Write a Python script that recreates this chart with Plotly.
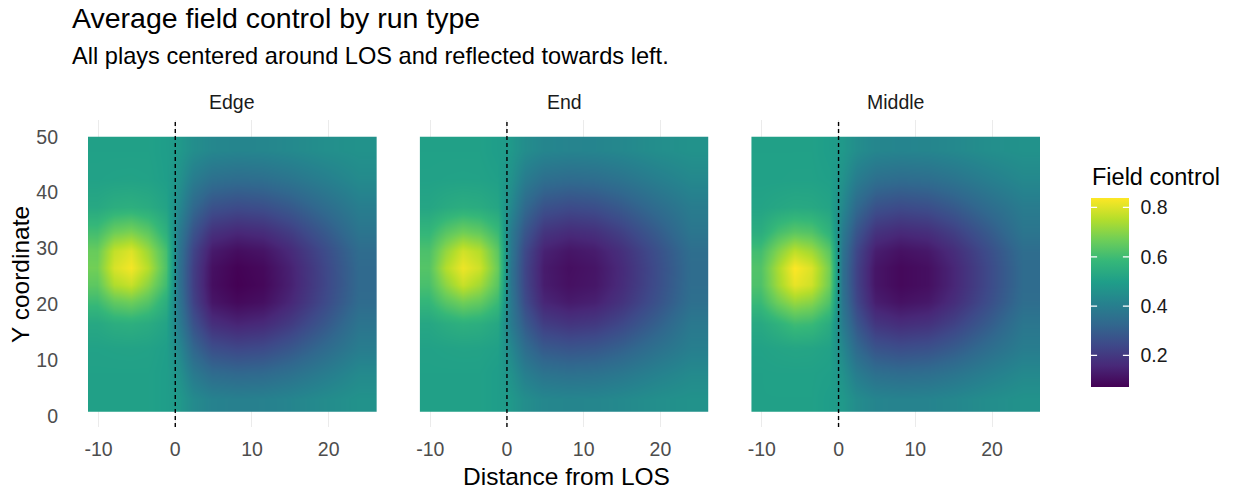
import plotly.graph_objects as go

# ---------------- data ----------------
panels = ["Edge", "End", "Middle"]
x_centers = [-10.25, -8, -5.75, -3.5, -1.25, 0.5, 2.25, 4.75, 8, 11.5, 15, 19.5, 24]
y_centers = [3, 7.5, 12, 16.5, 20.5, 23.5, 26.5, 29.5, 33, 37.5, 42.5, 47.5]
x_ticks = [-10, 0, 10, 20]
x_ticklabels = ["-10", "0", "10", "20"]
y_ticks = [0, 10, 20, 30, 40, 50]
cbar_ticks = [0.2, 0.4, 0.6, 0.8]
los = 0

edge_z = [
    [0.505, 0.505, 0.505, 0.505, 0.495, 0.48, 0.436, 0.411, 0.404, 0.407, 0.419, 0.441, 0.46],
    [0.505, 0.505, 0.505, 0.505, 0.495, 0.46, 0.387, 0.341, 0.33, 0.335, 0.356, 0.394, 0.435],
    [0.509, 0.511, 0.512, 0.51, 0.498, 0.43, 0.327, 0.258, 0.239, 0.248, 0.281, 0.338, 0.395],
    [0.53, 0.548, 0.553, 0.541, 0.513, 0.39, 0.268, 0.175, 0.15, 0.163, 0.206, 0.283, 0.367],
    [0.594, 0.649, 0.666, 0.629, 0.55, 0.37, 0.226, 0.117, 0.089, 0.103, 0.154, 0.244, 0.339],
    [0.643, 0.745, 0.773, 0.70, 0.598, 0.36, 0.215, 0.101, 0.071, 0.086, 0.139, 0.234, 0.332],
    [0.671, 0.792, 0.827, 0.752, 0.618, 0.36, 0.217, 0.105, 0.075, 0.09, 0.142, 0.236, 0.334],
    [0.657, 0.767, 0.799, 0.719, 0.608, 0.37, 0.232, 0.127, 0.099, 0.113, 0.162, 0.25, 0.342],
    [0.602, 0.663, 0.682, 0.641, 0.556, 0.39, 0.273, 0.182, 0.158, 0.17, 0.212, 0.288, 0.369],
    [0.53, 0.548, 0.553, 0.541, 0.513, 0.43, 0.333, 0.266, 0.249, 0.258, 0.288, 0.344, 0.398],
    [0.508, 0.51, 0.511, 0.509, 0.497, 0.46, 0.396, 0.356, 0.345, 0.351, 0.37, 0.403, 0.438],
    [0.505, 0.505, 0.505, 0.505, 0.495, 0.48, 0.447, 0.426, 0.42, 0.423, 0.433, 0.45, 0.46],
]
end_z = [
    [0.505, 0.505, 0.505, 0.505, 0.495, 0.48, 0.447, 0.426, 0.421, 0.423, 0.433, 0.45, 0.46],
    [0.505, 0.505, 0.505, 0.505, 0.495, 0.46, 0.403, 0.366, 0.356, 0.361, 0.378, 0.409, 0.436],
    [0.508, 0.511, 0.513, 0.512, 0.504, 0.43, 0.349, 0.29, 0.275, 0.283, 0.31, 0.358, 0.401],
    [0.525, 0.544, 0.557, 0.55, 0.526, 0.39, 0.293, 0.212, 0.19, 0.201, 0.239, 0.306, 0.38],
    [0.577, 0.635, 0.671, 0.651, 0.589, 0.38, 0.25, 0.153, 0.127, 0.14, 0.185, 0.265, 0.351],
    [0.612, 0.704, 0.774, 0.729, 0.634, 0.37, 0.236, 0.132, 0.105, 0.118, 0.167, 0.253, 0.344],
    [0.629, 0.75, 0.819, 0.78, 0.657, 0.37, 0.234, 0.129, 0.101, 0.115, 0.164, 0.251, 0.342],
    [0.616, 0.712, 0.784, 0.75, 0.639, 0.38, 0.244, 0.144, 0.117, 0.131, 0.177, 0.26, 0.348],
    [0.576, 0.633, 0.668, 0.648, 0.588, 0.39, 0.279, 0.191, 0.168, 0.179, 0.22, 0.293, 0.372],
    [0.521, 0.537, 0.547, 0.541, 0.521, 0.43, 0.333, 0.267, 0.249, 0.258, 0.289, 0.344, 0.393],
    [0.507, 0.509, 0.51, 0.509, 0.502, 0.46, 0.394, 0.352, 0.341, 0.347, 0.366, 0.401, 0.431],
    [0.505, 0.505, 0.505, 0.505, 0.495, 0.48, 0.444, 0.422, 0.416, 0.419, 0.429, 0.448, 0.46],
]
middle_z = [
    [0.505, 0.505, 0.505, 0.505, 0.495, 0.48, 0.442, 0.419, 0.413, 0.416, 0.427, 0.446, 0.46],
    [0.505, 0.506, 0.506, 0.506, 0.501, 0.46, 0.395, 0.354, 0.343, 0.349, 0.368, 0.402, 0.432],
    [0.51, 0.516, 0.52, 0.518, 0.508, 0.43, 0.337, 0.273, 0.256, 0.265, 0.294, 0.348, 0.395],
    [0.533, 0.563, 0.597, 0.589, 0.542, 0.39, 0.281, 0.193, 0.17, 0.182, 0.223, 0.295, 0.373],
    [0.589, 0.665, 0.718, 0.698, 0.62, 0.37, 0.238, 0.135, 0.108, 0.122, 0.17, 0.255, 0.345],
    [0.619, 0.725, 0.812, 0.783, 0.664, 0.36, 0.226, 0.116, 0.088, 0.102, 0.153, 0.243, 0.338],
    [0.624, 0.736, 0.837, 0.797, 0.672, 0.36, 0.226, 0.116, 0.088, 0.102, 0.153, 0.243, 0.338],
    [0.601, 0.688, 0.761, 0.726, 0.637, 0.37, 0.238, 0.135, 0.108, 0.122, 0.17, 0.255, 0.345],
    [0.547, 0.605, 0.637, 0.625, 0.563, 0.39, 0.276, 0.186, 0.163, 0.175, 0.216, 0.29, 0.371],
    [0.515, 0.525, 0.533, 0.53, 0.515, 0.43, 0.333, 0.266, 0.248, 0.258, 0.289, 0.344, 0.392],
    [0.506, 0.506, 0.507, 0.507, 0.501, 0.46, 0.395, 0.354, 0.343, 0.349, 0.368, 0.402, 0.432],
    [0.505, 0.505, 0.505, 0.505, 0.495, 0.48, 0.445, 0.423, 0.418, 0.421, 0.431, 0.449, 0.46],
]
panel_z = [edge_z, end_z, middle_z]

# ---------------- layout geometry ----------------
W, H = 1233, 490
ML, MR, MT, MB = 88, 193, 120, 63
PW = W - ML - MR
PH = H - MT - MB
FONT = "Liberation Sans, Arial, sans-serif"

def px2x(px):
    return (px - ML) / PW

def py2y(py):
    return (H - MB - py) / PH

domains = [[0.0, 0.3032], [0.3484, 0.6516], [0.6967, 1.0]]
x_range = [-11.375, 26.25]
y_range = [-2, 53]

fig = go.Figure()
axis_names = ["x", "x2", "x3"]
for i, (name, z) in enumerate(zip(panels, panel_z)):
    fig.add_trace(go.Heatmap(
        x=x_centers, y=y_centers, z=z,
        xaxis=axis_names[i], yaxis="y",
        coloraxis="coloraxis", zsmooth="best",
        name=name, hoverinfo="x+y+z",
    ))

all_vals = [v for z in panel_z for row in z for v in row]
zmin, zmax = min(all_vals), max(all_vals)

tickfont = dict(family=FONT, size=19.5, color="#4D4D4D")
layout = dict(
    width=W, height=H,
    margin=dict(l=ML, r=MR, t=MT, b=MB, pad=0),
    paper_bgcolor="white", plot_bgcolor="white",
    showlegend=False,
    font=dict(family=FONT, color="black"),
    yaxis=dict(range=y_range, tickvals=y_ticks, showgrid=False, zeroline=False,
               showline=False, ticks="", tickfont=tickfont, ticklabelstandoff=29,
               anchor="x", domain=[0, 1]),
    coloraxis=dict(
        colorscale="Viridis", cmin=zmin, cmax=zmax,
        colorbar=dict(
            x=px2x(1091), xanchor="left", xpad=0,
            y=py2y(292.8), yanchor="middle", ypad=0,
            len=189, lenmode="pixels", thickness=38, thicknessmode="pixels",
            outlinewidth=0, tickvals=cbar_ticks, ticktext=[str(v) for v in cbar_ticks],
            ticks="outside", ticklen=8, tickcolor="rgba(0,0,0,0)",
            tickfont=dict(family=FONT, size=19.5, color="#1A1A1A"),
        ),
    ),
)
for i, ax in enumerate(axis_names):
    key = "xaxis" if i == 0 else f"xaxis{i + 1}"
    layout[key] = dict(
        domain=domains[i], range=x_range, tickvals=x_ticks, ticktext=x_ticklabels,
        anchor="y", showgrid=True, gridcolor="#EBEBEB", gridwidth=1.1, zeroline=False,
        showline=False, ticks="", tickfont=tickfont, ticklabelstandoff=8,
    )
fig.update_layout(**layout)

# dashed line of scrimmage in each panel
for ax in axis_names:
    fig.add_shape(type="line", xref=ax, yref="y domain", x0=los, x1=los, y0=0, y1=1,
                  line=dict(color="black", width=1.4, dash="4px,3px"), layer="above")

# texts
ann = []
ann.append(dict(text="Average field control by run type", x=px2x(70), y=py2y(17.5),
                xanchor="left", yanchor="middle", font=dict(size=28.5, color="black")))
ann.append(dict(text="All plays centered around LOS and reflected towards left.", x=px2x(70),
                y=py2y(56), xanchor="left", yanchor="middle", font=dict(size=23.6, color="black")))
for i, name in enumerate(panels):
    ann.append(dict(text=name, x=(domains[i][0] + domains[i][1]) / 2, y=py2y(101.5),
                    xanchor="center", yanchor="middle", font=dict(size=19.5, color="#1A1A1A")))
ann.append(dict(text="Distance from LOS", x=px2x(566), y=py2y(476), xanchor="center",
                yanchor="middle", font=dict(size=24.5, color="black")))
ann.append(dict(text="Y coordinate", x=px2x(20), y=py2y(275), xanchor="center",
                yanchor="middle", textangle=-90, font=dict(size=24.5, color="black")))
ann.append(dict(text="Field control", x=px2x(1090), y=py2y(176.7), xanchor="left",
                yanchor="middle", font=dict(size=23.5, color="black")))
for a in ann:
    a.update(xref="paper", yref="paper", showarrow=False)
    a["font"]["family"] = FONT

# white colourbar tick marks on both sides of the bar (ggplot style)
bar_bottom, bar_top = 387.3, 198.3
for v in cbar_ticks:
    py = bar_bottom - (v - zmin) / (zmax - zmin) * (bar_bottom - bar_top)
    for head, off in [(1091, 7.6), (1129, -7.6)]:
        ann.append(dict(text="", x=px2x(head), y=py2y(py), xref="paper", yref="paper",
                        showarrow=True, ax=off, ay=0, arrowhead=0, arrowwidth=1.3,
                        arrowcolor="white", standoff=0, startstandoff=0))
fig.update_layout(annotations=ann)

fig.write_html("out.html", config={"displayModeBar": False},
               post_script="document.body.style.margin='0';document.body.style.overflow='hidden';")
